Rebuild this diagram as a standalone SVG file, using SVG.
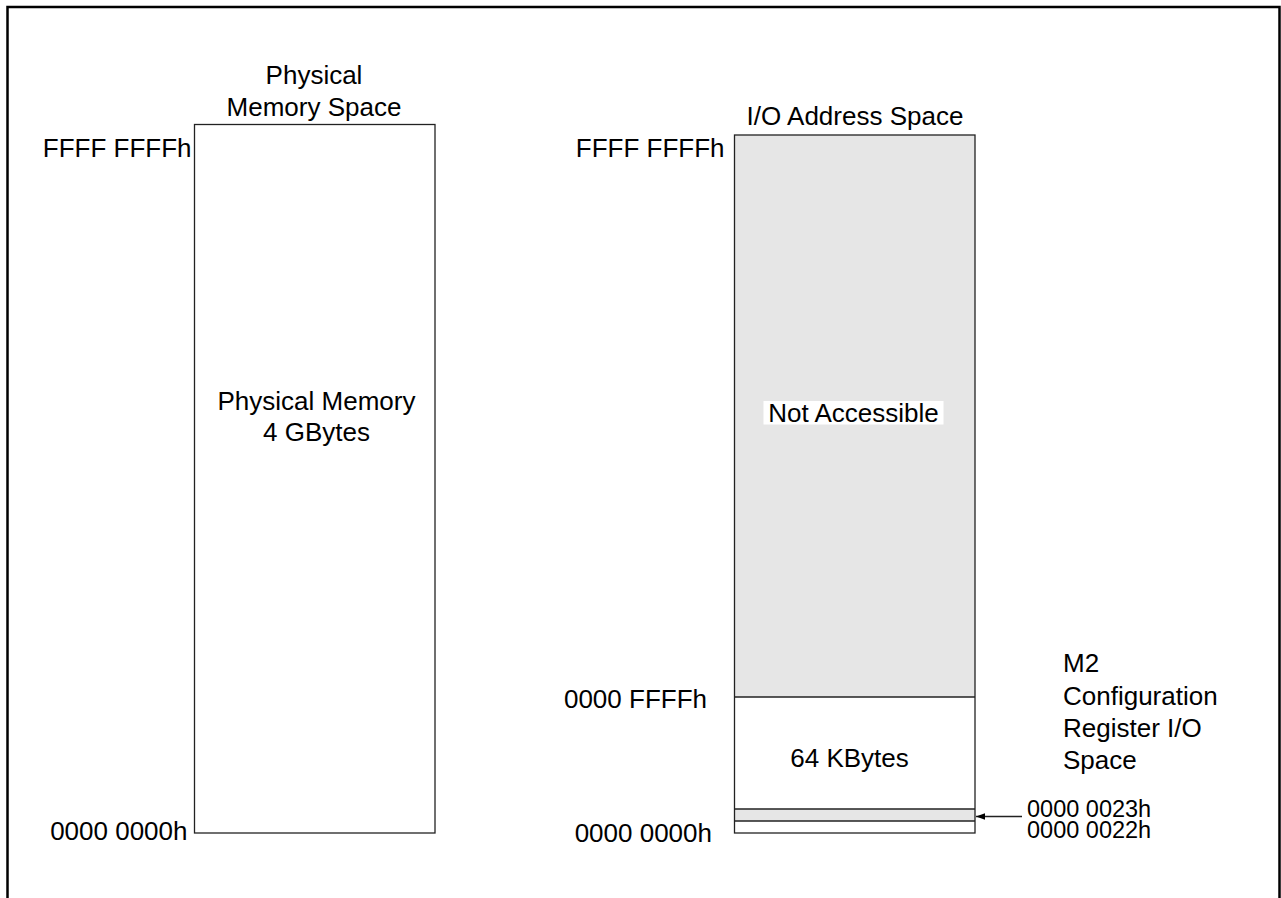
<svg xmlns="http://www.w3.org/2000/svg" width="1281" height="898" viewBox="0 0 1281 898">
<style>
.t{font-family:"Liberation Sans",Arial,sans-serif;font-size:26px;fill:#000}
.s{font-family:"Liberation Sans",Arial,sans-serif;font-size:23.5px;fill:#000}
.box{fill:none;stroke:#222;stroke-width:1.3}
.div{stroke:#222;stroke-width:1.3}
</style>
<defs>
<marker id="ah" markerWidth="10" markerHeight="8" refX="9" refY="4" orient="auto" markerUnits="userSpaceOnUse">
<path d="M0,0.8 L9,4 L0,7.2 Z" fill="#000"/>
</marker>
</defs>
<g id="frame">
<path d="M7.5,898 V7 H1279.5 V898" fill="none" stroke="#000" stroke-width="2.5"/>
</g>
<g id="physical-memory-space">
<text class="t" x="314" y="84" text-anchor="middle">Physical</text>
<text class="t" x="314" y="116" text-anchor="middle">Memory Space</text>
<rect class="box" x="194.5" y="124.5" width="240.5" height="708.5" fill="#fff"/>
<text class="t" x="316.5" y="410" text-anchor="middle">Physical Memory</text>
<text class="t" x="316.5" y="441" text-anchor="middle">4 GBytes</text>
<text class="t" x="191.5" y="157" text-anchor="end">FFFF FFFFh</text>
<text class="t" x="187.5" y="840" text-anchor="end">0000 0000h</text>
</g>
<g id="io-address-space">
<text class="t" x="855" y="124.5" text-anchor="middle">I/O Address Space</text>
<rect x="734.5" y="135" width="240.5" height="562" fill="#e6e6e6"/>
<rect x="734.5" y="809" width="240.5" height="12" fill="#e6e6e6"/>
<rect class="box" x="734.5" y="135" width="240.5" height="698"/>
<line class="div" x1="734.5" y1="697" x2="975" y2="697"/>
<line class="div" x1="734.5" y1="809" x2="975" y2="809"/>
<line class="div" x1="734.5" y1="821" x2="975" y2="821"/>
<rect x="763.5" y="401" width="180" height="23.5" fill="#fff"/>
<text class="t" x="853.5" y="421.5" text-anchor="middle">Not Accessible</text>
<text class="t" x="849.5" y="766.5" text-anchor="middle">64 KBytes</text>
<text class="t" x="724.5" y="157" text-anchor="end">FFFF FFFFh</text>
<text class="t" x="707" y="708" text-anchor="end">0000 FFFFh</text>
<text class="t" x="712" y="842" text-anchor="end">0000 0000h</text>
</g>
<g id="m2-config-label">
<text class="t" x="1063" y="672">M2</text>
<text class="t" x="1063" y="705">Configuration</text>
<text class="t" x="1063" y="737">Register I/O</text>
<text class="t" x="1063" y="769">Space</text>
<text class="s" x="1027" y="817">0000 0023h</text>
<text class="s" x="1027" y="838">0000 0022h</text>
</g>
<g id="connectors">
<line x1="1022" y1="816.5" x2="976" y2="816.5" stroke="#222" stroke-width="1.3" marker-end="url(#ah)"/>
</g>
</svg>
